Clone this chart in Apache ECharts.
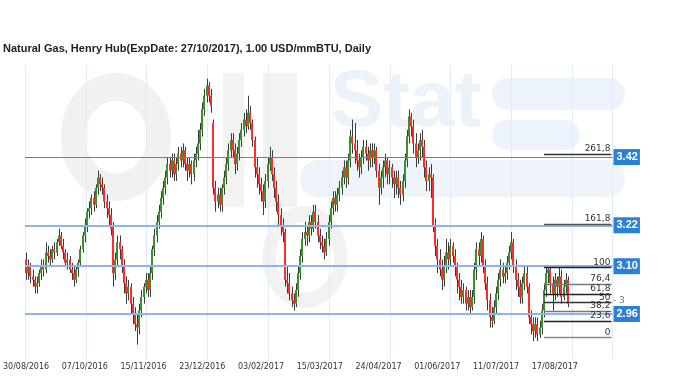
<!DOCTYPE html>
<html><head><meta charset="utf-8">
<script src="https://cdn.jsdelivr.net/npm/echarts@6/dist/echarts.min.js"></script>
<style>html,body{margin:0;padding:0;background:#fff}#c{width:680px;height:381px}</style>
</head><body><div id="c"></div>
<script>
const tickLabels = ['30/08/2016','07/10/2016','15/11/2016','23/12/2016','03/02/2017','15/03/2017','24/04/2017','01/06/2017','11/07/2017','17/08/2017'];
const labelStep = 27;
const categoryCount = 270;

const opens = [
3.12,3.08,3.10,3.07,3.06,3.04,3.05,3.08,3.10,3.09,
3.14,3.13,3.12,3.15,3.14,3.17,3.19,3.16,3.14,3.11,
3.12,3.09,3.08,3.06,3.09,3.11,3.15,3.19,3.22,3.26,
3.27,3.30,3.28,3.33,3.36,3.34,3.33,3.29,3.27,3.25,
3.22,3.08,3.12,3.17,3.15,3.10,3.05,3.02,3.04,2.99,
2.96,2.93,2.92,2.97,3.01,3.04,3.06,3.03,3.08,3.15,
3.19,3.23,3.26,3.30,3.33,3.36,3.40,3.38,3.41,3.37,
3.40,3.43,3.41,3.44,3.40,3.38,3.40,3.37,3.41,3.43,
3.46,3.50,3.56,3.60,3.63,3.60,3.52,3.33,3.29,3.31,
3.28,3.33,3.36,3.40,3.44,3.47,3.44,3.40,3.43,3.47,
3.50,3.53,3.51,3.55,3.52,3.47,3.39,3.37,3.34,3.32,
3.29,3.35,3.40,3.42,3.37,3.33,3.29,3.25,3.22,3.20,
3.06,3.05,3.02,3.00,2.99,3.03,3.08,3.13,3.18,3.20,
3.19,3.23,3.21,3.26,3.23,3.19,3.17,3.16,3.14,3.18,
3.23,3.27,3.30,3.28,3.31,3.33,3.36,3.39,3.36,3.41,
3.48,3.46,3.44,3.41,3.39,3.42,3.45,3.43,3.41,3.44,
3.42,3.44,3.38,3.33,3.36,3.39,3.41,3.37,3.39,3.36,
3.34,3.36,3.33,3.31,3.35,3.41,3.48,3.54,3.51,3.46,
3.42,3.44,3.47,3.45,3.39,3.35,3.37,3.36,3.22,3.16,
3.12,3.09,3.06,3.10,3.14,3.12,3.16,3.13,3.10,3.06,
3.04,3.01,3.03,2.99,3.01,2.98,3.01,3.09,3.15,3.13,
3.18,3.10,3.05,3.00,2.95,2.94,2.98,3.02,3.06,3.09,
3.07,3.08,3.11,3.14,3.17,3.10,3.06,3.04,3.01,3.05,
3.08,3.04,2.95,2.93,2.91,2.93,2.90,2.92,2.97,3.03,
3.08,3.09,3.05,3.02,3.06,3.04,3.07,3.01,3.04,3.06];

const closes = [
3.08,3.10,3.07,3.06,3.04,3.05,3.08,3.10,3.09,3.14,
3.13,3.12,3.15,3.14,3.17,3.19,3.16,3.14,3.11,3.12,
3.09,3.08,3.06,3.09,3.11,3.15,3.19,3.22,3.26,3.27,
3.30,3.28,3.33,3.36,3.34,3.33,3.29,3.27,3.25,3.21,
3.08,3.12,3.17,3.15,3.10,3.05,3.02,3.04,2.99,2.96,
2.93,2.92,2.97,3.01,3.04,3.06,3.03,3.08,3.15,3.19,
3.23,3.26,3.30,3.33,3.36,3.40,3.38,3.41,3.37,3.40,
3.43,3.41,3.44,3.40,3.38,3.40,3.37,3.41,3.43,3.46,
3.50,3.56,3.60,3.63,3.60,3.57,3.33,3.29,3.31,3.28,
3.33,3.36,3.40,3.44,3.47,3.44,3.40,3.43,3.47,3.50,
3.53,3.51,3.55,3.52,3.47,3.39,3.37,3.34,3.32,3.29,
3.35,3.40,3.42,3.37,3.33,3.29,3.25,3.22,3.20,3.06,
3.05,3.02,3.00,2.99,3.03,3.08,3.13,3.18,3.20,3.19,
3.23,3.21,3.26,3.23,3.19,3.17,3.16,3.14,3.18,3.23,
3.27,3.30,3.28,3.31,3.33,3.36,3.39,3.36,3.41,3.48,
3.46,3.44,3.41,3.39,3.42,3.45,3.43,3.41,3.44,3.42,
3.44,3.38,3.33,3.36,3.39,3.41,3.37,3.39,3.36,3.34,
3.36,3.33,3.31,3.35,3.41,3.48,3.54,3.51,3.46,3.42,
3.44,3.47,3.45,3.39,3.35,3.37,3.36,3.22,3.16,3.12,
3.09,3.06,3.10,3.14,3.12,3.16,3.13,3.10,3.06,3.04,
3.01,3.03,2.99,3.01,2.98,3.01,3.09,3.15,3.13,3.18,
3.10,3.05,3.00,2.95,2.94,2.98,3.02,3.06,3.09,3.07,
3.08,3.11,3.14,3.17,3.10,3.06,3.04,3.01,3.05,3.08,
3.04,2.95,2.93,2.91,2.93,2.90,2.92,2.97,3.03,3.08,
3.09,3.05,3.02,3.06,3.04,3.07,3.01,3.04,3.06,2.99];

const lows = [
3.06,3.06,3.05,3.04,3.02,3.02,3.04,3.06,3.07,3.08,
3.11,3.10,3.11,3.12,3.13,3.16,3.15,3.12,3.10,3.09,
3.08,3.06,3.04,3.05,3.07,3.10,3.14,3.17,3.20,3.24,
3.25,3.26,3.27,3.31,3.32,3.31,3.27,3.24,3.22,3.19,
3.04,3.06,3.10,3.12,3.08,3.02,2.99,3.00,2.96,2.93,
2.91,2.87,2.90,2.95,2.99,3.02,3.01,3.01,3.06,3.13,
3.17,3.21,3.24,3.28,3.31,3.34,3.36,3.36,3.35,3.35,
3.38,3.39,3.39,3.38,3.35,3.36,3.34,3.35,3.39,3.41,
3.44,3.48,3.54,3.58,3.58,3.55,3.31,3.26,3.27,3.26,
3.26,3.31,3.34,3.38,3.42,3.42,3.37,3.38,3.41,3.45,
3.48,3.49,3.50,3.50,3.45,3.36,3.33,3.31,3.29,3.25,
3.27,3.33,3.38,3.35,3.30,3.26,3.22,3.19,3.17,3.04,
3.02,3.00,2.98,2.97,2.98,3.01,3.06,3.11,3.16,3.16,
3.17,3.19,3.20,3.21,3.17,3.15,3.14,3.12,3.13,3.16,
3.21,3.25,3.26,3.26,3.29,3.31,3.34,3.33,3.34,3.39,
3.43,3.40,3.38,3.36,3.37,3.40,3.41,3.38,3.39,3.39,
3.40,3.36,3.28,3.31,3.33,3.36,3.34,3.34,3.33,3.30,
3.31,3.30,3.28,3.29,3.33,3.39,3.46,3.48,3.43,3.39,
3.40,3.41,3.42,3.36,3.32,3.32,3.30,3.20,3.13,3.08,
3.07,3.03,3.04,3.08,3.09,3.10,3.11,3.07,3.02,3.00,
2.99,2.99,2.97,2.97,2.96,2.97,2.99,3.06,3.10,3.11,
3.08,3.03,2.97,2.92,2.92,2.93,2.96,3.00,3.04,3.05,
3.05,3.06,3.09,3.12,3.08,3.03,3.01,2.99,2.99,3.03,
3.02,2.93,2.90,2.88,2.89,2.88,2.89,2.90,2.95,3.01,
3.05,3.02,2.97,3.00,3.01,3.02,2.99,3.00,3.02,2.98];

const highs = [
3.14,3.12,3.11,3.09,3.07,3.07,3.09,3.12,3.12,3.17,
3.16,3.15,3.16,3.17,3.18,3.21,3.20,3.18,3.15,3.14,
3.13,3.11,3.10,3.10,3.12,3.16,3.20,3.24,3.27,3.29,
3.31,3.32,3.34,3.38,3.37,3.36,3.34,3.31,3.29,3.27,
3.23,3.14,3.19,3.19,3.16,3.12,3.07,3.06,3.05,3.01,
2.98,2.96,2.99,3.03,3.05,3.08,3.08,3.10,3.16,3.21,
3.25,3.28,3.32,3.35,3.38,3.42,3.42,3.43,3.43,3.42,
3.45,3.45,3.46,3.45,3.42,3.42,3.41,3.43,3.45,3.50,
3.52,3.58,3.62,3.65,3.64,3.62,3.53,3.35,3.33,3.33,
3.34,3.38,3.42,3.46,3.49,3.49,3.46,3.45,3.49,3.52,
3.55,3.56,3.60,3.57,3.53,3.48,3.42,3.39,3.36,3.34,
3.37,3.42,3.45,3.44,3.39,3.35,3.31,3.27,3.24,3.21,
3.10,3.08,3.04,3.02,3.05,3.10,3.15,3.20,3.23,3.22,
3.25,3.25,3.28,3.28,3.25,3.21,3.19,3.18,3.20,3.25,
3.29,3.32,3.32,3.33,3.35,3.38,3.41,3.41,3.43,3.50,
3.53,3.52,3.47,3.43,3.44,3.47,3.47,3.45,3.46,3.46,
3.46,3.45,3.40,3.38,3.41,3.43,3.42,3.41,3.40,3.38,
3.38,3.38,3.35,3.37,3.43,3.50,3.56,3.55,3.53,3.49,
3.46,3.49,3.50,3.47,3.41,3.39,3.40,3.37,3.24,3.18,
3.15,3.12,3.13,3.18,3.17,3.18,3.17,3.15,3.11,3.08,
3.06,3.05,3.04,3.03,3.03,3.03,3.11,3.17,3.17,3.20,
3.19,3.12,3.07,3.02,2.98,3.00,3.04,3.08,3.12,3.11,
3.10,3.13,3.16,3.20,3.18,3.12,3.08,3.06,3.07,3.10,
3.10,3.05,2.97,2.95,2.95,2.95,2.94,2.99,3.05,3.10,
3.10,3.10,3.07,3.08,3.07,3.10,3.09,3.06,3.08,3.07];

const levelValues = [3.42, 3.22, 3.10, 2.96];
const fibNames = ['261,8','161,8','100','76,4','61,8','50','38,2','23,6','0'];
const fibValues = [3.428, 3.2225, 3.0956, 3.0472, 3.0172, 2.993, 2.9687, 2.9388, 2.8903];
const fibStartIndex = 238;

const categories = [];
for (let i = 0; i < categoryCount; i++) categories.push(String(i));
const candleRows = opens.map((o, i) => [i, o, closes[i], lows[i], highs[i]]);

const chart = echarts.init(document.getElementById('c'));

function renderCandle(params, api) {
  const i = api.value(0), o = api.value(1), c = api.value(2), l = api.value(3), h = api.value(4);
  const pO = api.coord([i, o]), pC = api.coord([i, c]), pL = api.coord([i, l]), pH = api.coord([i, h]);
  const x = Math.round(pO[0]);
  const up = c >= o;
  const top = Math.min(pO[1], pC[1]);
  const bh = Math.max(1.5, Math.abs(pO[1] - pC[1]));
  return {
    type: 'group',
    children: [
      { type: 'line', shape: { x1: x + 0.5, y1: pH[1], x2: x + 0.5, y2: pL[1] }, style: { stroke: '#3b3b3b', lineWidth: 1 } },
      { type: 'rect', shape: { x: x - 1, y: top, width: 2, height: bh }, style: { fill: up ? '#3e8e2e' : '#ff2a2a' } }
    ]
  };
}

const fibColors = ['#333','#555','#222','#777','#222','#333','#777','#222','#888'];

const option = {
  animation: false,
  backgroundColor: '#ffffff',
  grid: { left: 23, right: 67.5, top: 65, bottom: 21 },
  graphic: [
    { type: 'circle', z: -5, shape: { cx: 0, cy: 0, r: 50 }, x: 116, y: 137, scaleX: 0.86, style: { fill: 'none', stroke: '#f1f1f1', lineWidth: 28 } },
    { type: 'rect', z: -5, shape: { x: 223, y: 73, width: 21, height: 134 }, style: { fill: '#f2f2f2' } },
    { type: 'rect', z: -5, shape: { x: 263, y: 73, width: 34, height: 134 }, style: { fill: '#f2f2f2' } },
    { type: 'circle', z: -5, shape: { cx: 0, cy: 0, r: 36 }, x: 305, y: 257, scaleY: 1.2, style: { fill: 'none', stroke: '#f2f2f2', lineWidth: 13 } },
    { type: 'text', z: -5, left: 330, top: 64, style: { text: 'Stat', font: 'bold 80px "Liberation Sans"', fill: '#ecf2f9' } },
    { type: 'rect', z: -5, shape: { x: 492, y: 78, width: 133, height: 32, r: 16 }, style: { fill: '#edf3fa' } },
    { type: 'rect', z: -5, shape: { x: 492, y: 120, width: 88, height: 30, r: 15 }, style: { fill: '#edf3fa' } },
    { type: 'rect', z: -5, shape: { x: 300, y: 160, width: 325, height: 37, r: 18 }, style: { fill: '#eef4fa' } },
    { type: 'text', left: 3, top: 43, style: { text: 'Natural Gas, Henry Hub(ExpDate: 27/10/2017), 1.00 USD/mmBTU, Daily', font: 'bold 11px "Liberation Sans"', fill: '#222' } },
    { type: 'text', left: 613, top: 296, style: { text: '- 3', font: '9px "DejaVu Sans"', fill: '#777' } }
  ],
  xAxis: [
    {
      type: 'category', data: categories, boundaryGap: true,
      axisLine: { show: false }, axisTick: { show: false }, splitLine: { show: false },
      axisLabel: {
        interval: (idx) => idx % labelStep === 0 && idx / labelStep < tickLabels.length,
        formatter: (v, idx) => tickLabels[Math.round(Number(v) / labelStep)] || '',
        color: '#333', fontSize: 8, fontFamily: 'DejaVu Sans', margin: 3
      }
    },
    {
      type: 'value', min: 0, max: 9.66, interval: 1, position: 'bottom',
      axisLine: { show: false }, axisTick: { show: false }, axisLabel: { show: false },
      splitLine: { show: true, lineStyle: { color: '#e2ecf7', width: 1 } }
    }
  ],
  yAxis: {
    type: 'value', min: 2.825, max: 3.69, scale: true,
    axisLine: { show: false }, axisTick: { show: false }, axisLabel: { show: false }, splitLine: { show: false }
  },
  series: [
    {
      type: 'custom', xAxisIndex: 0, yAxisIndex: 0, renderItem: renderCandle,
      data: candleRows, encode: { x: 0, y: [1, 2, 3, 4] }, clip: true, z: 3
    },
    {
      type: 'line', xAxisIndex: 0, data: [], z: 2,
      markLine: {
        silent: true, symbol: ['none', 'none'], animation: false,
        data: levelValues.map((v, k) => ({
          yAxis: v,
          lineStyle: { color: k === 0 ? '#4f85c8' : '#8db6e6', width: k === 0 ? 1.2 : 2, type: 'solid' },
          label: {
            show: true, position: 'end', distance: 1, formatter: v.toFixed(2),
            backgroundColor: '#2b7fd4', color: '#fff', fontSize: 11, fontWeight: 'bold',
            fontFamily: 'Liberation Sans', padding: [3, 2, 2, 3]
          }
        }))
      }
    },
    {
      type: 'line', xAxisIndex: 0, data: [], z: 4,
      markLine: {
        silent: true, symbol: ['none', 'none'], animation: false,
        data: fibValues.map((v, k) => [
          {
            coord: [fibStartIndex, v], name: fibNames[k],
            lineStyle: { color: fibColors[k], width: 1.3, type: 'solid' },
            label: { show: true, position: 'insideEndTop', formatter: fibNames[k], color: '#333', fontSize: 9, fontFamily: 'DejaVu Sans', distance: 1 }
          },
          { coord: [categoryCount - 1, v] }
        ])
      }
    }
  ]
};
chart.setOption(option);
</script></body></html>
